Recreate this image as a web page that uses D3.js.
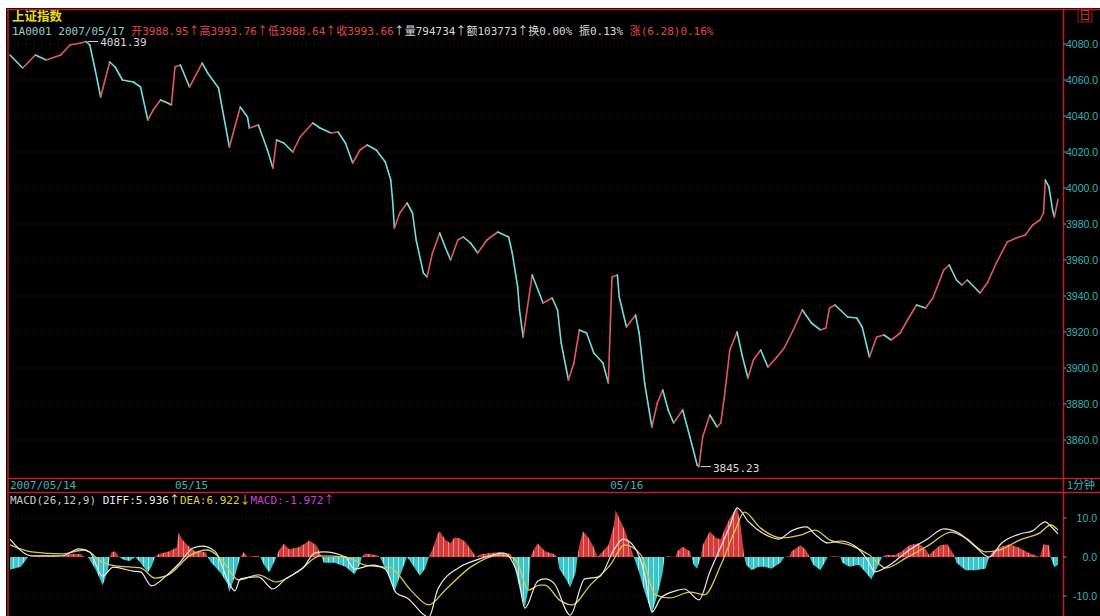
<!DOCTYPE html>
<html><head><meta charset="utf-8">
<script src="https://cdn.jsdelivr.net/npm/d3@7"></script>
<style>body{margin:0;background:#fff;} svg{display:block;}</style>
</head><body><svg id="c" width="1100" height="616"></svg>
<script>
// ---------- data ----------
const title = "上证指数";
const priceTicks = [4080,4060,4040,4020,4000,3980,3960,3940,3920,3900,3880,3860];
const dateTickMinutes = [0, 91, 331];
const dateTickLabels = ["2007/05/14", "05/15", "05/16"];
const macdTicks = [10, 0, -10];
const macdTickLabels = ["10.0", "0.0", "-10.0"];

// [minute index, price]
const pricePoints = [
[0,4073.89],[7,4066.67],[14,4073.89],[20,4071.11],[28,4073.89],[33,4079.44],[39,4080.56],[42,4081.39],[44,4079.44],[47,4065.56],[50,4050.56],[55,4070.00],[58,4067.22],[62,4060.00],[68,4058.89],[72,4056.11],[76,4037.78],[79,4043.33],[83,4048.89],[87,4047.22],[89,4046.11],
[91,4067.22],[94,4068.33],[99,4056.11],[106,4069.44],[109,4063.89],[115,4055.56],[121,4022.78],[127,4045.00],[131,4039.44],[132,4033.33],[137,4035.00],[142,4021.11],[145,4011.11],[147,4026.67],[151,4025.00],[156,4020.00],[160,4028.33],[167,4036.11],[171,4033.33],[177,4030.56],[181,4031.11],[185,4025.00],[189,4013.89],[193,4021.11],[197,4023.89],[202,4021.11],[207,4014.44],[210,4004.44],[211,3993.33],[212,3977.78],[215,3986.11],[219,3991.67],[222,3986.11],[224,3971.11],[228,3952.78],[230,3950.56],[233,3963.89],[237,3975.00],[240,3967.22],[243,3960.00],[247,3971.11],[250,3972.78],[254,3969.44],[258,3963.89],[263,3971.11],[269,3975.56],[275,3972.78],[277,3963.89],[280,3945.00],[281,3932.22],[283,3917.22],[285,3931.11],[288,3951.67],[294,3936.11],[299,3938.89],[302,3932.22],[304,3913.89],[308,3893.33],[311,3902.78],[314,3921.11],[318,3919.44],[322,3908.33],[327,3902.78],[330,3891.67],
[332,3950.56],[335,3951.67],[336,3939.44],[340,3922.78],[345,3929.44],[347,3919.44],[350,3891.67],[354,3867.22],[357,3880.56],[360,3887.78],[363,3876.67],[366,3869.44],[371,3876.67],[375,3861.67],[379,3846.11],[380,3845.23],[382,3861.67],[386,3873.89],[390,3867.22],[392,3869.44],[394,3883.89],[397,3910.00],[401,3920.00],[404,3906.11],[407,3894.44],[410,3904.44],[414,3910.00],[418,3900.56],[423,3906.11],[427,3911.11],[432,3921.11],[437,3932.22],[442,3925.00],[447,3921.11],[450,3922.22],[452,3933.33],[455,3935.00],[462,3928.33],[467,3927.78],[470,3922.78],[474,3906.11],[478,3917.22],[482,3918.33],[486,3915.56],[491,3919.44],[495,3926.67],[500,3935.00],[505,3933.33],[509,3938.89],[515,3954.44],[518,3957.22],[522,3948.89],[525,3946.11],[528,3948.89],[535,3941.67],[539,3947.22],[544,3958.33],[550,3970.00],[555,3972.22],[560,3973.89],[564,3979.44],[568,3982.22],[570,3986.11],
[571,4004.44],[573,4000.56],[575,3987.78],[576,3983.89],[578,3993.66]
];

// MACD histogram [minute, value]
const macdHist = [
[0,-3.3],[6,-2.5],[10,0],[17,0.3],[25,0.3],[28,0],[29,0],[33,0.8],[39,0.8],[41,0],[43,0],[47,-3],[50,-6],[51,-7.3],[54,-3.5],[55,0],[56,1.2],[58,1.5],[60,0],[63,-0.8],[66,-1],[69,0],[72,-1.5],[76,-4],[78,-2.5],[80,0],[82,0.8],[88,1.5],[92,2.5],[93,6.3],[95,4.5],[98,3],[102,1.5],[108,1.2],[109,0],[111,-1.5],[116,-4],[120,-7],[121,-9],[124,-5],[127,0],[129,1.3],[131,0],[136,0.3],[138,0],[140,-2],[143,-4],[147,0],[148,1.5],[151,3.4],[154,2],[159,2.5],[163,3.5],[165,4.2],[169,3],[172,0],[173,-1.5],[179,-1.5],[185,-2.5],[190,-4.4],[193,-2],[194,0],[196,0.9],[202,0.5],[204,0],[206,-2],[210,-6],[212,-9],[215,-5],[219,0],[222,-2],[226,-4.8],[229,-3],[231,0],[233,2],[236,6],[237,6.6],[240,4.5],[243,3.5],[245,5],[248,4.8],[251,4],[255,1.5],[257,0],[260,0.8],[265,1],[270,1.3],[276,0.8],[277,0],[278,-2],[281,-8],[284,-13],[286,-8],[287,0],[289,2],[291,3.5],[295,1.5],[300,0.8],[302,0],[303,-3],[307,-6],[309,-7.8],[312,-4],[313,0],[314,3],[316,6.6],[319,5],[322,2.5],[324,0],[330,3],[333,8],[334,12],[337,9],[339,7],[342,3],[344,0],[347,-4],[350,-9],[354,-14.5],[357,-10],[360,-4],[361,0],[363,0.2],[367,0],[368,1.5],[371,2.6],[375,1.5],[376,0],[377,-2],[379,-3],[381,0],[382,3],[386,6.6],[389,5],[392,4.5],[394,7],[397,10],[401,12.8],[403,8],[405,0],[406,-2],[409,-3.4],[413,-2.5],[416,-2.5],[420,-3],[425,-1.5],[427,0],[430,0.2],[431,1.5],[436,3],[439,1.8],[441,0],[443,-2],[447,-3.4],[451,0],[455,0.2],[458,0],[459,-1.5],[463,-2.5],[468,-2],[472,-4],[475,-5.8],[478,-3],[481,0],[483,0.5],[488,0.5],[492,1.5],[496,3],[501,3.5],[505,2],[507,0.5],[509,1.5],[513,3],[517,3.3],[520,1],[521,0],[522,-1.5],[527,-3.4],[532,-3.4],[538,-3],[540,0],[542,1.5],[546,2.5],[551,3.3],[556,2.5],[562,1],[566,0.3],[568,0],[570,3.3],[573,3],[574,0],[575,-1.5],[576,-2.6],[578,-1.97]
];

// DIFF line [minute, value]
const diffPoints = [
[0,4.6],[12,0.3],[29,0.3],[38,2.1],[44,1.3],[51,-4.9],[57,-2.6],[68,-3.6],[72,-3.8],[78,-7.4],[86,-4.9],[93,-1.8],[101,2.3],[106,2.8],[113,1.5],[121,-6.9],[124,-8.7],[127,-5.6],[137,-5.1],[145,-8.2],[152,-5.6],[162,-2.6],[168,1.0],[173,1.3],[185,0],[190,-3.1],[200,-2.1],[207,-3.1],[213,-9.2],[219,-10.5],[231,-15.4],[236,-8.2],[248,-2.6],[257,-0.8],[266,0.5],[272,1.0],[280,-4.4],[284,-13.1],[291,-6.2],[295,-5.6],[300,-6.7],[309,-14.9],[317,-5.6],[325,-5.1],[333,1.8],[338,4.6],[344,2.8],[350,-4.4],[354,-14.1],[359,-10.5],[367,-8.7],[372,-8.2],[380,-11.0],[386,-3.8],[393,3.6],[397,7.9],[401,12.6],[407,9.2],[416,5.9],[424,4.6],[431,6.7],[439,7.7],[445,5.4],[451,3.6],[458,4.1],[466,2.8],[473,-0.8],[477,-3.8],[485,-2.1],[496,1.8],[506,4.6],[515,7.2],[523,6.2],[532,2.8],[540,0],[547,3.6],[557,5.9],[564,6.7],[571,9.0],[574,7.9],[578,5.936]
];

// DEA line [minute, value]
const deaPoints = [
[0,3.1],[12,1.3],[29,0.8],[41,1.8],[51,-1.3],[58,-2.3],[72,-2.8],[80,-5.4],[88,-4.4],[99,0.3],[109,1.8],[117,-0.8],[126,-5.9],[137,-4.6],[147,-6.4],[160,-3.3],[171,0.3],[185,0],[196,-2.1],[210,-2.8],[221,-8.5],[231,-12.3],[240,-8.5],[254,-2.6],[270,0.5],[279,-0.8],[286,-8.5],[292,-7.2],[295,-7.2],[303,-11.0],[310,-12.3],[320,-7.2],[331,-2.1],[339,3.1],[348,0.5],[356,-9.7],[364,-10.5],[375,-9.0],[383,-9.7],[392,-2.1],[400,6.9],[405,11.5],[414,7.4],[425,4.9],[436,5.6],[444,6.9],[452,4.4],[463,3.1],[474,0.5],[483,-2.8],[494,-0.3],[507,3.1],[519,6.4],[527,4.9],[538,1.3],[546,1.8],[557,4.4],[568,6.2],[574,8.2],[578,6.922]
];

// header texts: [text, colour]
const infoParts = [
  ["1A0001 2007/05/17 ", "#8ccfd0"],
  ["开3988.95", "#e04848"], ["↑", "#e04848"], ["高3993.76", "#e04848"], ["↑", "#e04848"],
  ["低3988.64", "#e04848"], ["↑", "#e04848"], ["收3993.66", "#e04848"],
  ["↑", "#d8d8d8"], ["量794734", "#d8d8d8"], ["↑", "#d8d8d8"], ["额103773", "#d8d8d8"], ["↑", "#d8d8d8"],
  ["换0.00%  振0.13%  ", "#d8d8d8"], ["涨(6.28)0.16%", "#e04848"]
];
const macdLabelParts = [
  ["MACD(26,12,9) ", "#c8c8c8"], ["DIFF:5.936", "#e8e8e8"], ["↑", "#e8e8e8"],
  ["DEA:6.922", "#e0d030"], ["↓", "#e0d030"], ["MACD:-1.972", "#d040d0"], ["↑", "#d040d0"]
];

// ---------- drawing ----------
const W = 1100, H = 616;
const svg = d3.select("#c");
const mono = "'DejaVu Sans Mono','Noto Sans CJK SC',monospace";
const cjk = "'Noto Sans CJK SC',sans-serif";
const axisFont = "'Liberation Sans',Arial,sans-serif";
const RED = "#c81c1c", UP = "#e05a5a", DOWN = "#6fdede", AXIS = "#3cb4b8";

const L = 8, R = 1063.5, TOP = 9.5;
const macdTop = 506, macdBottom = 616;

const x = d3.scaleLinear().domain([0, 578]).range([10, 1058]);
const yP = d3.scaleLinear().domain([3860, 4080]).range([440, 44]);
const yM = d3.scaleLinear().domain([-10, 10]).range([596, 518]);

// background
svg.append("rect").attr("x", 6).attr("y", 8).attr("width", W - 6).attr("height", H - 8).attr("fill", "#000");

// frame lines
const frame = svg.append("g").attr("stroke", RED).attr("stroke-width", 1.5);
frame.append("line").attr("x1", 6).attr("x2", W).attr("y1", TOP).attr("y2", TOP);
frame.append("line").attr("x1", L).attr("x2", L).attr("y1", TOP).attr("y2", H);
frame.append("line").attr("x1", R).attr("x2", R).attr("y1", TOP).attr("y2", H);
frame.append("line").attr("x1", L).attr("x2", W).attr("y1", 478.5).attr("y2", 478.5);
frame.append("line").attr("x1", L).attr("x2", W).attr("y1", 492.5).attr("y2", 492.5);

// main grid + price axis
const gGrid = svg.append("g");
priceTicks.forEach(t => {
  gGrid.append("line").attr("x1", L + 2).attr("x2", R).attr("y1", yP(t)).attr("y2", yP(t))
    .attr("stroke", "#5e1010").attr("stroke-dasharray", "1,3");
  gGrid.append("line").attr("x1", R).attr("x2", R + 3).attr("y1", yP(t)).attr("y2", yP(t))
    .attr("stroke", AXIS);
  svg.append("text").attr("x", 1066).attr("y", yP(t) + 4).attr("fill", AXIS)
    .attr("font-family", axisFont).attr("font-size", 10.5).text(t.toFixed(1));
});

// MACD grid + axis
macdTicks.forEach((t, i) => {
  gGrid.append("line").attr("x1", L + 2).attr("x2", R).attr("y1", yM(t)).attr("y2", yM(t))
    .attr("stroke", "#5e1010").attr("stroke-dasharray", "1,3");
  gGrid.append("line").attr("x1", R).attr("x2", R + 3).attr("y1", yM(t)).attr("y2", yM(t))
    .attr("stroke", AXIS);
  svg.append("text").attr("x", 1097).attr("y", yM(t) + 4).attr("text-anchor", "end").attr("fill", AXIS)
    .attr("font-family", axisFont).attr("font-size", 10.5).text(macdTickLabels[i]);
});

// title + info row
svg.append("text").attr("x", 12).attr("y", 21).attr("fill", "#e8dc1c")
  .attr("font-family", cjk).attr("font-size", 12.5).attr("font-weight", "bold").text(title);
svg.append("text").attr("x", 1079).attr("y", 20).attr("fill", "#d83030")
  .attr("font-family", cjk).attr("font-size", 12).text("日");
svg.append("rect").attr("x", 1078).attr("y", 9).attr("width", 14).attr("height", 13)
  .attr("fill", "none").attr("stroke", "#a01818").attr("stroke-width", 1);

function writeParts(sel, parts) {
  parts.forEach(([s, c]) => {
    const ts = sel.append("tspan").attr("fill", c).text(s);
    if (s === "↑" || s === "↓") ts.attr("font-family", cjk);
  });
}
const info = svg.append("text").attr("x", 12).attr("y", 35).attr("font-family", mono).attr("font-size", 11);
writeParts(info, infoParts);

// date axis
dateTickMinutes.forEach((m, i) => {
  svg.append("text").attr("x", x(m)).attr("y", 489).attr("fill", AXIS)
    .attr("font-family", mono).attr("font-size", 11).text(dateTickLabels[i]);
});
svg.append("text").attr("x", 1067).attr("y", 489).attr("fill", AXIS)
  .attr("font-family", cjk).attr("font-size", 11).text("1分钟");

// MACD label row
const ml = svg.append("text").attr("x", 10).attr("y", 504).attr("font-family", mono).attr("font-size", 11);
writeParts(ml, macdLabelParts);

// price line: segments coloured by direction
const gPrice = svg.append("g").attr("stroke-width", 1.6).attr("stroke-linecap", "round");
d3.pairs(pricePoints).forEach(([a, b]) => {
  gPrice.append("line")
    .attr("x1", x(a[0])).attr("y1", yP(a[1])).attr("x2", x(b[0])).attr("y2", yP(b[1]))
    .attr("stroke", b[1] >= a[1] ? UP : DOWN);
});

// extreme labels
const hi = d3.greatest(pricePoints, d => d[1]);
const lo = d3.least(pricePoints, d => d[1]);
[hi, lo].forEach(p => {
  svg.append("line").attr("x1", x(p[0]) + 2).attr("x2", x(p[0]) + 12)
    .attr("y1", yP(p[1])).attr("y2", yP(p[1])).attr("stroke", "#d8d8d8");
  svg.append("text").attr("x", x(p[0]) + 14).attr("y", yP(p[1]) + 5).attr("fill", "#d8d8d8")
    .attr("font-family", mono).attr("font-size", 11).text(p[1].toFixed(2));
});

// MACD panel
const defs = svg.append("defs");
defs.append("clipPath").attr("id", "mclip").append("rect")
  .attr("x", L + 1).attr("y", macdTop).attr("width", R - L - 2).attr("height", macdBottom - macdTop);
function stripes(id, base, hl) {
  const p = defs.append("pattern").attr("id", id).attr("patternUnits", "userSpaceOnUse")
    .attr("width", 5).attr("height", 6);
  p.append("rect").attr("width", 5).attr("height", 6).attr("fill", base);
  p.append("rect").attr("x", 3).attr("width", 0.8).attr("height", 6).attr("fill", hl);
}
stripes("pr", "#d43c3c", "#f0a0a0");
stripes("pc", "#3cc4c8", "#c0f4f4");

const gM = svg.append("g").attr("clip-path", "url(#mclip)");
const posArea = d3.area().x(d => x(d[0])).y0(yM(0)).y1(d => yM(Math.max(0, d[1])));
const negArea = d3.area().x(d => x(d[0])).y0(yM(0)).y1(d => yM(Math.min(0, d[1])));
gM.append("path").attr("d", posArea(macdHist)).attr("fill", "url(#pr)");
gM.append("path").attr("d", negArea(macdHist)).attr("fill", "url(#pc)");

const mLine = d3.line().x(d => x(d[0])).y(d => yM(d[1])).curve(d3.curveMonotoneX);
gM.append("path").attr("d", mLine(deaPoints)).attr("fill", "none").attr("stroke", "#d8c848").attr("stroke-width", 1.3);
gM.append("path").attr("d", mLine(diffPoints)).attr("fill", "none").attr("stroke", "#e8e8e8").attr("stroke-width", 1.2);
</script>
</body></html>
